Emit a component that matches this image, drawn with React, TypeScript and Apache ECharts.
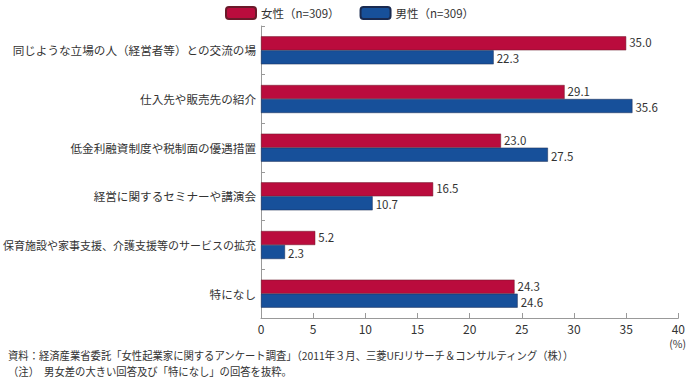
import React, { useEffect, useRef } from "react";
import * as echarts from "echarts";

const categories = [
  "同じような立場の人（経営者等）との交流の場",
  "仕入先や販売先の紹介",
  "低金利融資制度や税制面の優遇措置",
  "経営に関するセミナーや講演会",
  "保育施設や家事支援、介護支援等のサービスの拡充",
  "特になし",
];
const femaleValues = [35.0, 29.1, 23.0, 16.5, 5.2, 24.3];
const maleValues = [22.3, 35.6, 27.5, 10.7, 2.3, 24.6];
const seriesNames = ["女性（n=309）", "男性（n=309）"];
const noteLines = [
  "資料：経済産業省委託「女性起業家に関するアンケート調査」（2011年３月、三菱UFJリサーチ＆コンサルティング（株））",
  "（注）　男女差の大きい回答及び「特になし」の回答を抜粋。",
];

const FONT = "'Noto Sans CJK JP', 'Noto Sans', sans-serif";

export default function App() {
  const ref = useRef<HTMLDivElement>(null);
  useEffect(() => {
    if (!ref.current) return;
    const chart = echarts.init(ref.current, undefined, { renderer: "svg" });
    const makeLabel = (dy: number) => ({
      show: true,
      position: "right" as const,
      distance: 3,
      offset: [0, dy],
      color: "#333",
      fontSize: 11.5,
      lineHeight: 12,
      fontFamily: FONT,
      formatter: (p: any) => Number(p.value).toFixed(1),
    });
    chart.setOption({
      animation: false,
      textStyle: { fontFamily: FONT },
      legend: {
        top: 1,
        left: 220,
        itemWidth: 30,
        itemHeight: 12,
        itemGap: 20,
        textStyle: { fontSize: 11.5, color: "#333", fontFamily: FONT },
        data: seriesNames,
      },
      grid: { left: 260, right: 9, top: 26, bottom: 74, containLabel: false },
      xAxis: {
        type: "value",
        min: 0,
        max: 40,
        interval: 5,
        axisLine: { show: true, lineStyle: { color: "#999", width: 1 } },
        axisTick: { show: true, inside: true, length: 5, lineStyle: { color: "#999" } },
        axisLabel: { color: "#333", fontSize: 12, margin: 4, lineHeight: 13, fontFamily: FONT },
        splitLine: { show: false },
      },
      yAxis: {
        type: "category",
        inverse: true,
        data: categories,
        axisLine: { show: true, lineStyle: { color: "#999", width: 1 } },
        axisTick: { show: true, inside: true, length: 4, lineStyle: { color: "#999" } },
        axisLabel: {
          color: "#333",
          fontSize: 11.6,
          margin: 5,
          fontFamily: FONT,
          formatter: (v: string) => (v.length > 21 ? "{s|" + v + "}" : v),
          rich: { s: { fontSize: 11, color: "#333", fontFamily: FONT } },
        },
      },
      series: [
        {
          name: seriesNames[0],
          type: "bar",
          data: femaleValues,
          barWidth: 14,
          barGap: "0%",
          itemStyle: { color: "#BA0C3D", borderColor: "#6a1a2a", borderWidth: 0.5 },
          label: makeLabel(-1),
        },
        {
          name: seriesNames[1],
          type: "bar",
          data: maleValues,
          barWidth: 14,
          barGap: "0%",
          itemStyle: { color: "#17509A", borderColor: "#1a2a50", borderWidth: 0.5 },
          label: makeLabel(1),
        },
      ],
      graphic: [
        {
          type: "text",
          right: 2,
          top: 338,
          style: { text: "(%)", fontSize: 10.5, fill: "#333", fontFamily: FONT },
        },
        {
          type: "text",
          left: 8,
          top: 350,
          scaleX: 0.94,
          style: { text: noteLines[0], fontSize: 11, fill: "#333", fontFamily: FONT },
        },
        {
          type: "text",
          left: 8,
          top: 366,
          scaleX: 0.94,
          style: { text: noteLines[1], fontSize: 11, fill: "#333", fontFamily: FONT },
        },
      ],
    });
    return () => chart.dispose();
  }, []);
  return (
    <div
      ref={ref}
      style={{ position: "absolute", left: 0, top: 0, width: 688, height: 392 }}
    />
  );
}
